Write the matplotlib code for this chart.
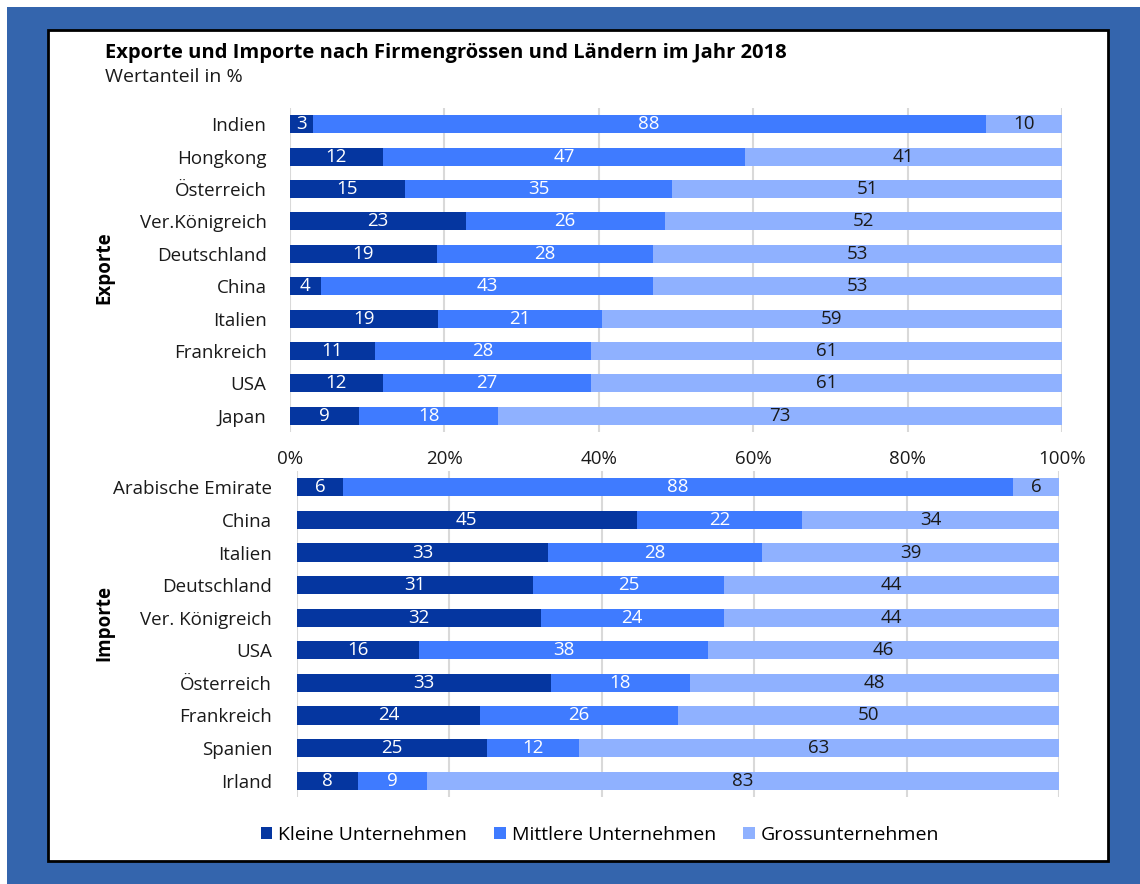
import matplotlib
matplotlib.use("Agg")
import matplotlib.pyplot as plt
from matplotlib.patches import Rectangle, Patch

plt.rcParams["font.family"] = ["Open Sans", "DejaVu Sans"]

# --- DATA ---
exp_countries = ["Indien", "Hongkong", "Österreich", "Ver.Königreich", "Deutschland",
                 "China", "Italien", "Frankreich", "USA", "Japan"]
exp_small = [3, 12, 15, 23, 19, 4, 19, 11, 12, 9]
exp_medium = [88, 47, 35, 26, 28, 43, 21, 28, 27, 18]
exp_large = [10, 41, 51, 52, 53, 53, 59, 61, 61, 73]

imp_countries = ["Arabische Emirate", "China", "Italien", "Deutschland", "Ver. Königreich",
                 "USA", "Österreich", "Frankreich", "Spanien", "Irland"]
imp_small = [6, 45, 33, 31, 32, 16, 33, 24, 25, 8]
imp_medium = [88, 22, 28, 25, 24, 38, 18, 26, 12, 9]
imp_large = [6, 34, 39, 44, 44, 46, 48, 50, 63, 83]

series_names = ["Kleine Unternehmen", "Mittlere Unternehmen", "Grossunternehmen"]
x_ticks = [0, 20, 40, 60, 80, 100]

colors = ["#0536A0", "#3F7BFF", "#8FB1FF"]
text_colors = ["white", "white", "#1a1a1a"]
FS = 13.5

W, H = 1140, 884
fig = plt.figure(figsize=(W / 100, H / 100), dpi=100)
fig.patch.set_facecolor("white")

# outer blue frame + white panel
fig.add_artist(Rectangle((7 / W, 0), 1, 1 - 7 / H, transform=fig.transFigure,
                         facecolor="#3465AD", edgecolor="none", zorder=-10))
fig.add_artist(Rectangle((48 / W, 1 - 861 / H), (1108 - 48) / W, (861 - 30) / H,
                         transform=fig.transFigure, facecolor="white",
                         edgecolor="black", linewidth=2, zorder=-9))


def px_axes(left, top, right, bottom):
    return fig.add_axes([left / W, 1 - bottom / H, (right - left) / W, (bottom - top) / H])


def draw(ax, countries, small, medium, large):
    n = len(countries)
    ys = list(range(n))
    totals = [s + m + l for s, m, l in zip(small, medium, large)]
    lefts = [0.0] * n
    for k, vals in enumerate([small, medium, large]):
        widths = [v / t * 100 for v, t in zip(vals, totals)]
        ax.barh(ys, widths, left=lefts, height=0.56, color=colors[k], zorder=3)
        for y, l, w, v in zip(ys, lefts, widths, vals):
            ax.text(l + w / 2, y, str(v), ha="center", va="center",
                    fontsize=FS, color=text_colors[k], zorder=4)
        lefts = [a + b for a, b in zip(lefts, widths)]
    ax.set_yticks(ys)
    ax.set_yticklabels(countries, fontsize=FS, color="#1a1a1a")
    ax.set_ylim(n - 0.5, -0.5)
    ax.set_xlim(0, 100)
    ax.set_xticks(x_ticks)
    for x in x_ticks:
        ax.axvline(x, color="#D9D9D9", linewidth=1.5, zorder=1)
    for s in ax.spines.values():
        s.set_visible(False)
    ax.tick_params(length=0)
    ax.set_facecolor("none")


ax1 = px_axes(290, 108, 1062, 432)
draw(ax1, exp_countries, exp_small, exp_medium, exp_large)
ax1.set_xticklabels([f"{x}%" for x in x_ticks], fontsize=FS, color="#1a1a1a")
ax1.tick_params(axis="x", pad=13)
ax1.tick_params(axis="y", pad=17)

ax2 = px_axes(297, 471, 1059, 797)
draw(ax2, imp_countries, imp_small, imp_medium, imp_large)
ax2.set_xticklabels([])
ax2.tick_params(axis="y", pad=18)

fig.text(104 / W, 1 - 268 / H, "Exporte", rotation=90, ha="center", va="center",
         fontsize=13.5, fontweight="bold", color="black")
fig.text(104 / W, 1 - 623 / H, "Importe", rotation=90, ha="center", va="center",
         fontsize=13.5, fontweight="bold", color="black")

fig.text(105 / W, 1 - 53 / H, "Exporte und Importe nach Firmengrössen und Ländern im Jahr 2018",
         ha="left", va="center", fontsize=14.5, fontweight="bold", color="black")
fig.text(105 / W, 1 - 77 / H, "Wertanteil in %", ha="left", va="center",
         fontsize=14, color="#1a1a1a")

handles = [Patch(facecolor=c, edgecolor="none") for c in colors]
fig.legend(handles, series_names, loc="center", bbox_to_anchor=(600 / W, 1 - 835 / H),
           ncol=3, frameon=False, prop={"size": 14},
           handlelength=0.6, handleheight=0.6,
           handletextpad=0.3, columnspacing=1.4)

fig.savefig("out.png", dpi=100)
